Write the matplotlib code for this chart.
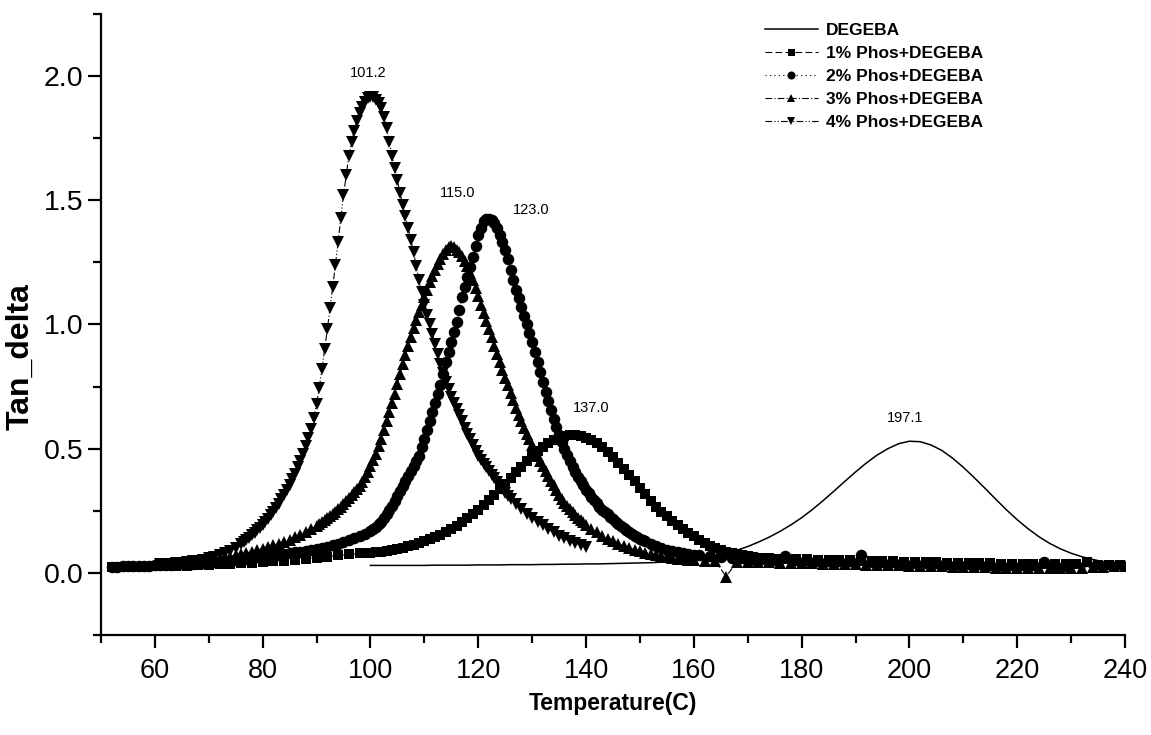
import numpy as np
import matplotlib
matplotlib.use("Agg")
import matplotlib.pyplot as plt
from matplotlib.ticker import MultipleLocator, FormatStrFormatter

plt.rcParams["font.family"] = ["Liberation Sans", "DejaVu Sans"]

# ── data (temperature in C, tan delta) ─────────────────────────────────────
t_degeba = np.arange(100, 241, 2.0)
v_degeba = [
    0.030, 0.030, 0.030, 0.030, 0.030, 0.030, 0.031, 0.031, 0.031, 0.031,
    0.032, 0.032, 0.032, 0.033, 0.033, 0.033, 0.034, 0.034, 0.035, 0.035,
    0.036, 0.036, 0.037, 0.038, 0.039, 0.040, 0.041, 0.043, 0.046, 0.050,
    0.054, 0.060, 0.068, 0.078, 0.091, 0.106, 0.124, 0.144, 0.167, 0.193,
    0.222, 0.255, 0.291, 0.329, 0.368, 0.406, 0.442, 0.474, 0.500, 0.520,
    0.530, 0.528, 0.515, 0.493, 0.462, 0.425, 0.384, 0.341, 0.297, 0.254,
    0.214, 0.178, 0.146, 0.119, 0.097, 0.079, 0.065, 0.054, 0.045, 0.038,
    0.032,
]

t_p1 = np.concatenate([np.arange(52, 100, 2.0), np.arange(100, 176, 1.0),
                       np.arange(177, 240, 2.0)])
v_p1 = [
    0.022, 0.023, 0.024, 0.025, 0.026, 0.027, 0.028, 0.029, 0.031, 0.032,
    0.034, 0.036, 0.038, 0.040, 0.043, 0.046, 0.049, 0.053, 0.057, 0.061,
    0.065, 0.070, 0.074, 0.078,
    0.081, 0.083, 0.086, 0.089, 0.093, 0.097, 0.102, 0.107, 0.113, 0.120,
    0.127, 0.135, 0.144, 0.154, 0.165, 0.177, 0.190, 0.204, 0.219, 0.236,
    0.254, 0.273, 0.293, 0.314, 0.336, 0.359, 0.382, 0.405, 0.428, 0.450,
    0.470, 0.489, 0.506, 0.521, 0.534, 0.544, 0.551, 0.555, 0.555, 0.551,
    0.544, 0.534, 0.521, 0.505, 0.486, 0.465, 0.443, 0.419, 0.394, 0.368,
    0.342, 0.316, 0.291, 0.267, 0.246, 0.228, 0.210, 0.193, 0.177, 0.162,
    0.148, 0.134, 0.121, 0.110, 0.100, 0.092, 0.085, 0.079, 0.074, 0.070,
    0.066, 0.063, 0.061, 0.059, 0.058, 0.057,
    0.056, 0.055, 0.054, 0.053, 0.052, 0.051, 0.050, 0.049, 0.048, 0.047,
    0.046, 0.045, 0.044, 0.043, 0.042, 0.041, 0.040, 0.040, 0.039, 0.038,
    0.037, 0.037, 0.036, 0.036, 0.035, 0.035, 0.034, 0.034, 0.045, 0.033,
    0.032, 0.031,
]

t_p2 = np.concatenate([np.arange(52, 100, 1.0), np.arange(100, 151, 0.5),
                       np.arange(151, 162, 1.0), np.arange(163, 230, 2.0)])
v_p2 = [
    0.025, 0.025, 0.026, 0.026, 0.027, 0.027, 0.028, 0.029, 0.030, 0.031,
    0.032, 0.033, 0.034, 0.035, 0.036, 0.037, 0.039, 0.040, 0.042, 0.044,
    0.046, 0.048, 0.050, 0.052, 0.055, 0.057, 0.060, 0.062, 0.065, 0.067,
    0.070, 0.073, 0.076, 0.079, 0.082, 0.085, 0.089, 0.093, 0.097, 0.101,
    0.106, 0.111, 0.117, 0.124, 0.131, 0.139, 0.148, 0.158,
    0.170, 0.177, 0.185, 0.195, 0.205, 0.220, 0.235, 0.252, 0.270, 0.290,
    0.310, 0.330, 0.350, 0.370, 0.390, 0.410, 0.430, 0.450, 0.470, 0.505,
    0.540, 0.575, 0.610, 0.648, 0.685, 0.720, 0.755, 0.800, 0.850, 0.890,
    0.930, 0.970, 1.010, 1.060, 1.110, 1.150, 1.190, 1.230, 1.270, 1.315,
    1.360, 1.390, 1.415, 1.423, 1.425, 1.420, 1.410, 1.388, 1.360, 1.332,
    1.300, 1.262, 1.220, 1.180, 1.140, 1.105, 1.070, 1.035, 1.000, 0.965,
    0.930, 0.890, 0.850, 0.810, 0.770, 0.730, 0.690, 0.655, 0.620, 0.587,
    0.555, 0.527, 0.500, 0.475, 0.450, 0.427, 0.405, 0.387, 0.370, 0.352,
    0.335, 0.320, 0.305, 0.292, 0.280, 0.267, 0.255, 0.245, 0.235, 0.225,
    0.215, 0.205, 0.195, 0.187, 0.180, 0.172, 0.165, 0.157, 0.150, 0.144,
    0.138, 0.132,
    0.127, 0.117, 0.108, 0.100, 0.094, 0.089, 0.084, 0.080, 0.076, 0.073,
    0.070,
    0.066, 0.063, 0.060, 0.058, 0.056, 0.054, 0.053, 0.068, 0.051, 0.050,
    0.049, 0.048, 0.047, 0.046, 0.070, 0.044, 0.043, 0.042, 0.041, 0.040,
    0.039, 0.038, 0.037, 0.036, 0.035, 0.034, 0.033, 0.032, 0.031, 0.030,
    0.030, 0.045, 0.029, 0.028,
]

t_p3 = np.concatenate([np.arange(61, 90, 1.0), np.arange(90, 140, 0.5),
                       np.arange(140, 161, 1.0), np.arange(162, 241, 2.0)])
v_p3 = [
    0.030, 0.031, 0.032, 0.034, 0.035, 0.037, 0.040, 0.043, 0.046, 0.050,
    0.053, 0.057, 0.061, 0.065, 0.070, 0.075, 0.080, 0.086, 0.091, 0.097,
    0.104, 0.111, 0.118, 0.126, 0.134, 0.143, 0.153, 0.164, 0.176,
    0.190, 0.197, 0.205, 0.213, 0.221, 0.229, 0.238, 0.247, 0.257, 0.267,
    0.278, 0.289, 0.300, 0.312, 0.325, 0.337, 0.350, 0.367, 0.385, 0.407,
    0.430, 0.455, 0.480, 0.510, 0.540, 0.575, 0.610, 0.647, 0.685, 0.722,
    0.760, 0.800, 0.840, 0.878, 0.915, 0.950, 0.985, 1.018, 1.050, 1.080,
    1.110, 1.140, 1.170, 1.195, 1.220, 1.243, 1.265, 1.283, 1.300, 1.310,
    1.315, 1.310, 1.300, 1.290, 1.275, 1.257, 1.235, 1.208, 1.180, 1.148,
    1.115, 1.080, 1.045, 1.012, 0.980, 0.948, 0.915, 0.882, 0.850, 0.818,
    0.785, 0.755, 0.725, 0.695, 0.665, 0.637, 0.610, 0.585, 0.560, 0.537,
    0.515, 0.492, 0.470, 0.450, 0.430, 0.410, 0.390, 0.371, 0.352, 0.333,
    0.315, 0.298, 0.282, 0.269, 0.256, 0.244, 0.233, 0.222, 0.212, 0.203,
    0.194, 0.178, 0.163, 0.150, 0.138, 0.127, 0.117, 0.108, 0.100, 0.093,
    0.087, 0.081, 0.076, 0.071, 0.067, 0.063, 0.060, 0.057, 0.054, 0.052,
    0.050,
    0.048, 0.047, -0.015, 0.045, 0.044, 0.043, 0.042, 0.041, 0.040, 0.039,
    0.038, 0.037, 0.036, 0.035, 0.034, 0.033, 0.032, 0.031, 0.030, 0.029,
    0.028, 0.027, 0.026, 0.025, 0.024, 0.023, 0.022, 0.021, 0.020, 0.019,
    0.018, 0.018, 0.018, 0.018, 0.019, 0.020, 0.022, 0.024, 0.026, 0.028,
]

t_p4 = np.concatenate([np.arange(61, 76, 1.0), np.arange(76, 126, 0.5),
                       np.arange(126, 141, 1.0)])
v_p4 = [
    0.034, 0.035, 0.037, 0.039, 0.041, 0.043, 0.046, 0.049, 0.053, 0.058,
    0.064, 0.071, 0.079, 0.089, 0.102,
    0.117, 0.125, 0.133, 0.142, 0.151, 0.161, 0.171, 0.182, 0.193, 0.205,
    0.217, 0.231, 0.245, 0.261, 0.278, 0.296, 0.315, 0.335, 0.355, 0.377,
    0.400, 0.425, 0.450, 0.478, 0.510, 0.543, 0.580, 0.625, 0.680, 0.745,
    0.820, 0.900, 0.980, 1.065, 1.150, 1.240, 1.330, 1.430, 1.520, 1.600,
    1.680, 1.735, 1.780, 1.820, 1.850, 1.875, 1.895, 1.910, 1.915, 1.915,
    1.905, 1.890, 1.870, 1.835, 1.790, 1.735, 1.680, 1.630, 1.580, 1.530,
    1.480, 1.435, 1.390, 1.340, 1.290, 1.235, 1.180, 1.130, 1.080, 1.040,
    1.000, 0.960, 0.920, 0.880, 0.840, 0.805, 0.770, 0.740, 0.710, 0.685,
    0.660, 0.635, 0.610, 0.585, 0.560, 0.537, 0.515, 0.492, 0.470, 0.455,
    0.440, 0.425, 0.410, 0.395, 0.380, 0.365, 0.350, 0.336, 0.322, 0.310,
    0.298, 0.276, 0.256, 0.238, 0.222, 0.206, 0.191, 0.177, 0.163, 0.150,
    0.139, 0.129, 0.120, 0.112, 0.105,
]

labels = ["DEGEBA", "1% Phos+DEGEBA", "2% Phos+DEGEBA",
          "3% Phos+DEGEBA", "4% Phos+DEGEBA"]
peak_text = ["197.1", "137.0", "123.0", "115.0", "101.2"]
# label offsets from each peak, in pixels
peak_offset = [(-4, 16), (21, 20), (42, 2), (6, 46), (-2, 17)]

series = [(t_degeba, v_degeba), (t_p1, v_p1), (t_p2, v_p2),
          (t_p3, v_p3), (t_p4, v_p4)]
styles = [
    dict(linestyle="-", linewidth=1.1, marker=None),
    dict(linestyle=(0, (6, 3)), linewidth=0.8, marker="s", markersize=7.2),
    dict(linestyle=(0, (1, 3)), linewidth=0.8, marker="o", markersize=8.3),
    dict(linestyle=(0, (6, 2, 1, 2)), linewidth=0.8, marker="^", markersize=8.3),
    dict(linestyle=(0, (6, 2, 1, 2, 1, 2)), linewidth=0.8, marker="v", markersize=8.3),
]

fig = plt.figure(figsize=(11.51, 7.35), dpi=100)
ax = fig.add_axes([0.0877, 0.1361, 0.8897, 0.8449])

for (t, v), st, lab in zip(series, styles, labels):
    ax.plot(t, v, color="black", markeredgewidth=0, label=lab, **st)

for (t, v), txt, off in zip(series, peak_text, peak_offset):
    i = int(np.argmax(v))
    ax.annotate(txt, (t[i], v[i]), xytext=off, textcoords="offset pixels",
                ha="center", va="bottom", fontsize=10.5)

ax.set_xlim(50, 240)
ax.set_ylim(-0.25, 2.25)
ax.xaxis.set_major_locator(MultipleLocator(20))
ax.xaxis.set_minor_locator(MultipleLocator(10))
ax.yaxis.set_major_locator(MultipleLocator(0.5))
ax.yaxis.set_minor_locator(MultipleLocator(0.25))
ax.yaxis.set_major_formatter(FormatStrFormatter("%.1f"))

for s in ["top", "right"]:
    ax.spines[s].set_visible(False)
for s in ["left", "bottom"]:
    ax.spines[s].set_linewidth(1.6)

ax.tick_params(which="major", length=9.5, width=1.6)
ax.tick_params(which="minor", length=5.5, width=1.6)
ax.tick_params(axis="x", pad=7, labelsize=19.5)
ax.tick_params(axis="y", pad=3, labelsize=20.5)

ax.set_xlabel("Temperature(C)", fontsize=16.5, fontweight="bold", labelpad=6)
ax.set_ylabel("Tan_delta", fontsize=23, fontweight="bold")
ax.yaxis.set_label_coords(-0.064, 0.449)

ax.legend(loc="upper left", bbox_to_anchor=(0.648, 0.986), frameon=False,
          prop=dict(weight="bold", size=12.5), handlelength=3.1,
          handletextpad=0.45, labelspacing=0.46, borderpad=0,
          borderaxespad=0, markerscale=0.7)

fig.savefig("out.png", dpi=100)
